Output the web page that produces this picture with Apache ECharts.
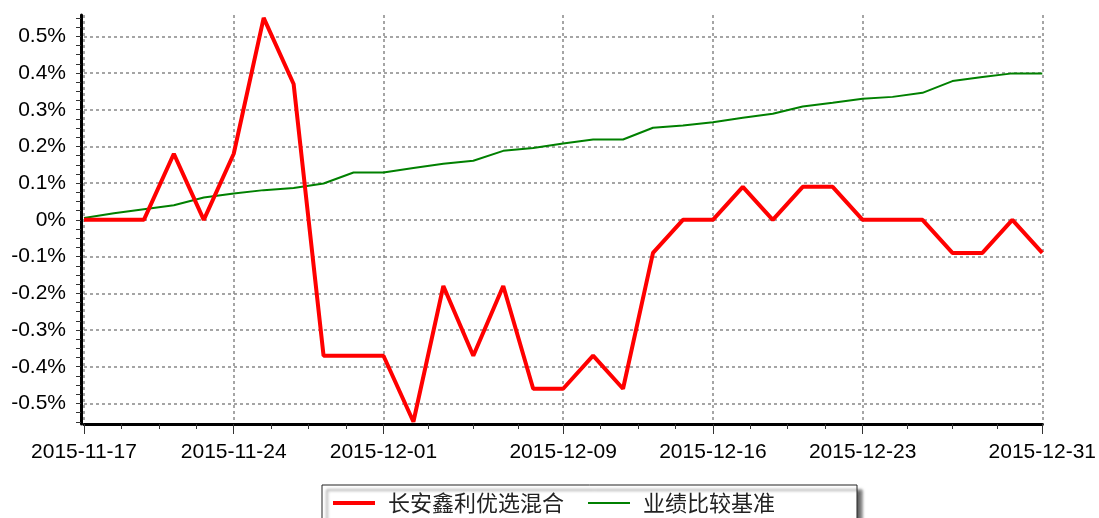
<!DOCTYPE html>
<html>
<head>
<meta charset="utf-8">
<script src="https://cdn.jsdelivr.net/npm/echarts@6/dist/echarts.min.js"></script>
<style>
  html, body { margin: 0; padding: 0; background: #fff; }
  #chart { width: 1099px; height: 518px; }
</style>
</head>
<body>
<div id="chart"></div>
<script>
// trading days shown on the x axis
var dates = ['2015-11-17','2015-11-18','2015-11-19','2015-11-20','2015-11-23','2015-11-24','2015-11-25','2015-11-26','2015-11-27','2015-11-30',
    '2015-12-01','2015-12-02','2015-12-03','2015-12-04','2015-12-07','2015-12-08','2015-12-09','2015-12-10','2015-12-11','2015-12-14',
    '2015-12-15','2015-12-16','2015-12-17','2015-12-18','2015-12-21','2015-12-22','2015-12-23','2015-12-24','2015-12-25','2015-12-28',
    '2015-12-29','2015-12-30','2015-12-31'];
// values in %
var fund = [0,0,0,0.18,0,0.18,0.55,0.37,-0.37,-0.37,-0.37,-0.55,-0.18,-0.37,-0.18,-0.46,-0.46,-0.37,-0.46,-0.09,
    0,0,0.09,0,0.09,0.09,0,0,0,-0.09,-0.09,0,-0.09];
var bench = [0.005,0.018,0.029,0.04,0.061,0.072,0.081,0.087,0.099,0.129,0.129,0.141,0.153,0.161,0.188,0.196,0.208,0.219,0.219,0.251,
    0.257,0.266,0.278,0.289,0.309,0.319,0.33,0.335,0.346,0.378,0.389,0.399,0.399];
var names = ['长安鑫利优选混合', '业绩比较基准'];
var xMajor = [0, 5, 10, 16, 21, 26, 32];
var yMajor = [-0.5, -0.4, -0.3, -0.2, -0.1, 0, 0.1, 0.2, 0.3, 0.4, 0.5];

var yMin = -0.556, yMax = 0.558;

// minor ticks: 4 steps between x majors, 0.025 on y
var xMinor = [];
for (var k = 0; k < xMajor.length - 1; k++) {
    var a = xMajor[k], b = xMajor[k + 1];
    for (var s = 0; s < 4; s++) xMinor.push(a + (b - a) * s / 4);
}
xMinor.push(xMajor[xMajor.length - 1]);
var yMinor = [];
for (var t = -22; t <= 22; t++) yMinor.push(t * 0.025);

function pairs(arr) {
    return arr.map(function (v, i) { return [i, v]; });
}

var font = '"Liberation Sans", Arial, sans-serif';
var gridLine = { show: true, lineStyle: { color: '#888', width: 1.5, type: [3, 3] } };

var myChart = echarts.init(document.getElementById('chart'));
var option = {
    animation: false,
    grid: { left: 84, right: 52, top: 15, bottom: 94 },
    legend: {
        left: 322,
        top: 485,
        padding: [7, 82, 40, 11],
        itemWidth: 42,
        itemHeight: 14,
        itemGap: 24,
        borderColor: '#222',
        borderWidth: 1,
        backgroundColor: '#fff',
        shadowColor: 'rgba(0,0,0,0.6)',
        shadowBlur: 3,
        shadowOffsetX: 5,
        shadowOffsetY: 5,
        textStyle: {
            fontFamily: '"Noto Sans CJK SC", sans-serif',
            fontSize: 22,
            color: '#222',
            padding: [0, 0, 0, 8]
        },
        data: [
            { name: names[0], icon: 'path://M0,0H42V4H0Z' },
            { name: names[1], icon: 'path://M0,0H42V2H0Z' }
        ]
    },
    xAxis: [{
        type: 'value',
        min: 0,
        max: 32,
        axisLine: { onZero: false, lineStyle: { color: '#000', width: 3 } },
        axisTick: { customValues: xMajor, length: 10, lineStyle: { color: '#333', width: 1 } },
        axisLabel: {
            customValues: xMajor,
            margin: 18,
            color: '#000',
            fontFamily: font,
            fontSize: 21,
            formatter: function (v) { return dates[Math.round(v)]; }
        },
        splitLine: gridLine
    }, {
        type: 'value',
        position: 'bottom',
        min: 0,
        max: 32,
        axisLine: { show: false, onZero: false },
        axisTick: { customValues: xMinor, length: 5, lineStyle: { color: '#333', width: 1 } },
        axisLabel: { show: false },
        splitLine: { show: false }
    }],
    yAxis: [{
        type: 'value',
        min: yMin,
        max: yMax,
        offset: 3,
        axisLine: { show: true, onZero: false, lineStyle: { color: '#000', width: 3 } },
        axisTick: { customValues: yMinor, length: 5, lineStyle: { color: '#333', width: 1 } },
        axisLabel: {
            customValues: yMajor,
            margin: 15,
            color: '#000',
            fontFamily: font,
            fontSize: 21,
            formatter: function (v) { return (Math.round(v * 10) / 10) + '%'; }
        },
        splitLine: { show: false }
    }, {
        type: 'value',
        position: 'left',
        min: yMin,
        max: yMax,
        axisLine: { show: false, onZero: false },
        axisTick: { show: false, customValues: yMajor },
        axisLabel: { show: false },
        splitLine: gridLine
    }],
    series: [{
        name: names[0],
        type: 'line',
        xAxisIndex: 0,
        yAxisIndex: 0,
        symbol: 'none',
        z: 3,
        lineStyle: { color: '#ff0000', width: 4 },
        itemStyle: { color: '#ff0000' },
        data: pairs(fund)
    }, {
        name: names[1],
        type: 'line',
        xAxisIndex: 0,
        yAxisIndex: 0,
        symbol: 'none',
        z: 2,
        lineStyle: { color: '#008000', width: 2 },
        itemStyle: { color: '#008000' },
        data: pairs(bench)
    }]
};
myChart.setOption(option);
</script>
</body>
</html>
